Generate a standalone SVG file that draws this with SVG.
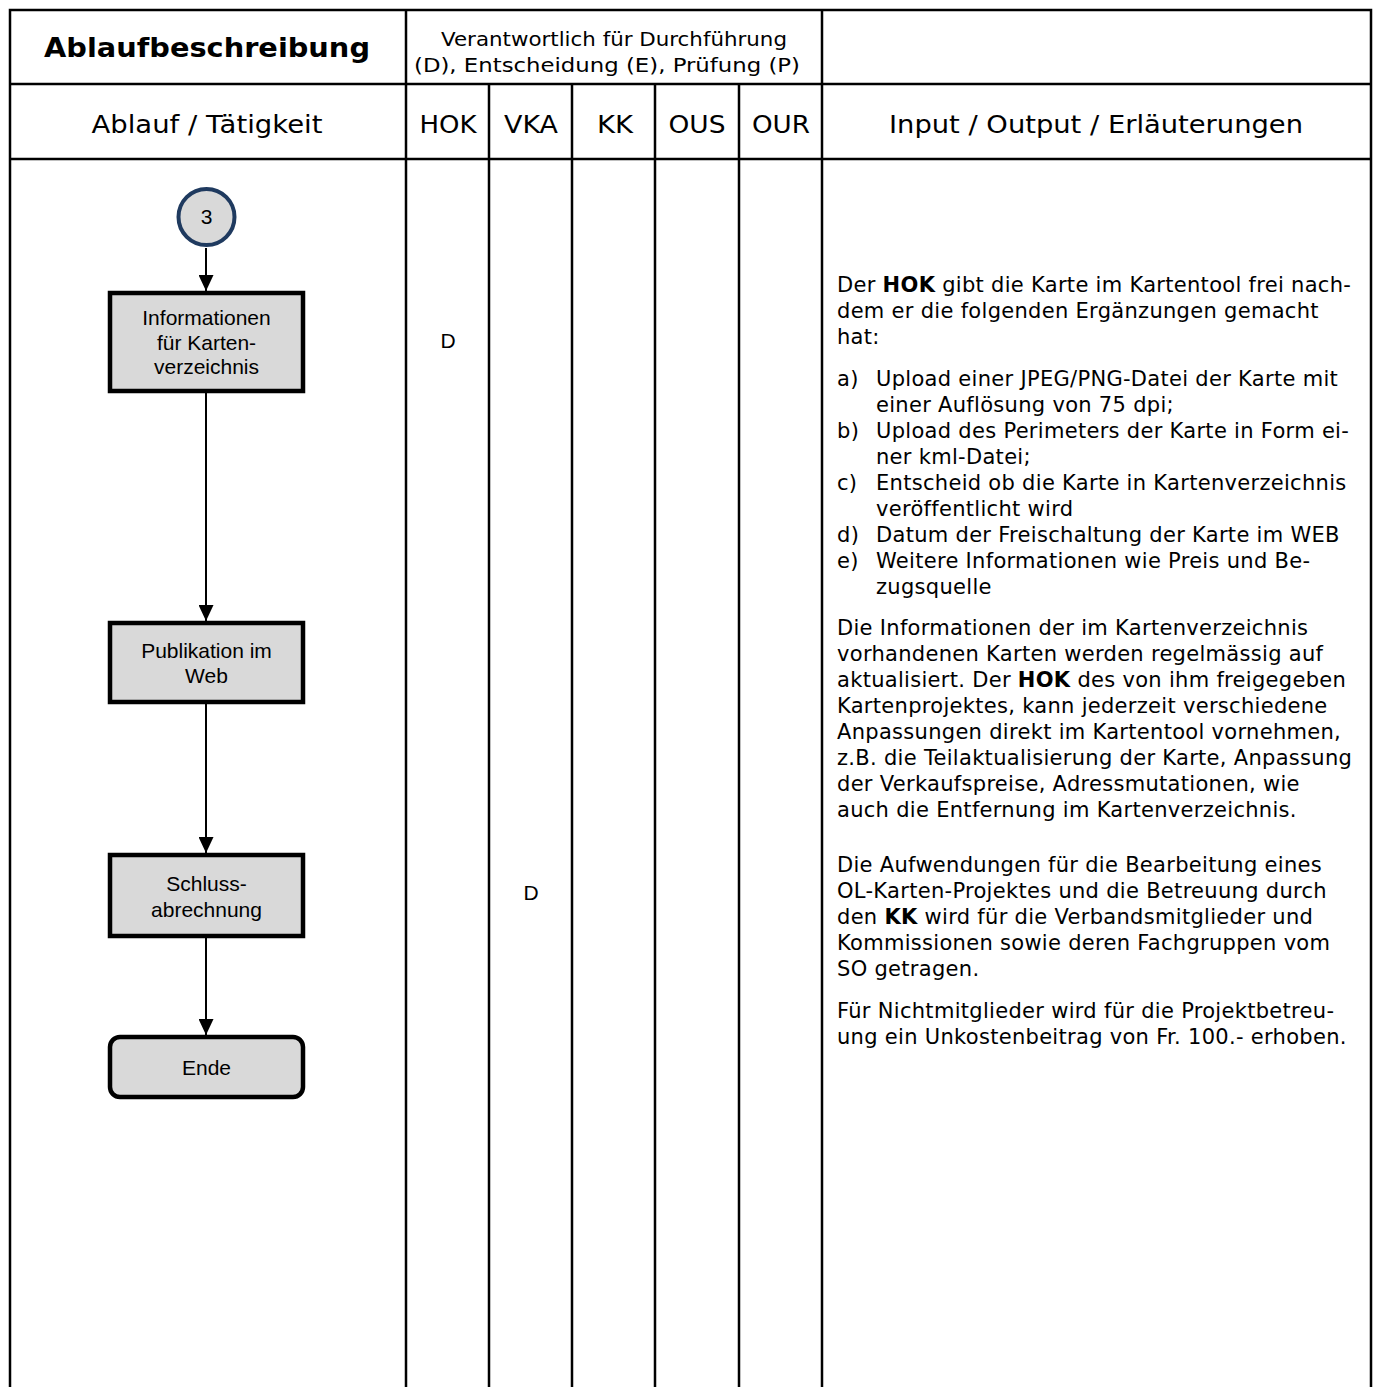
<svg xmlns="http://www.w3.org/2000/svg" width="1378" height="1387" viewBox="0 0 1378 1387">
<defs>
<style>
.grid{stroke:#000;stroke-width:2.5;fill:none}
.hdr{font-family:"DejaVu Sans","Liberation Sans",sans-serif;fill:#000}
.body{font-family:"DejaVu Sans","Liberation Sans",sans-serif;font-size:21px;letter-spacing:0.3px;fill:#000}
.node rect{fill:#d9d9d9;stroke:#000;stroke-width:4.5}
.lbl{font-family:"Liberation Sans",Arial,sans-serif;font-size:21px;fill:#000;text-anchor:middle}
.conn{stroke:#000;stroke-width:2;fill:none;marker-end:url(#arr)}
</style>
<marker id="arr" viewBox="0 0 16 15" refX="16" refY="7.5" markerWidth="16" markerHeight="15" markerUnits="userSpaceOnUse" orient="auto">
<path d="M0,0 L16,7.5 L0,15 z" fill="#000"/>
</marker>
</defs>
<rect width="1378" height="1387" fill="#fff"/>
<g id="table">
<path class="grid" d="M10,1387 V10 H1371 V1387 M10,84 H1371 M10,159 H1371 M406,10 V1387 M822,10 V1387 M489,84 V1387 M572,84 V1387 M655,84 V1387 M739,84 V1387"/>
</g>
<g id="headers" class="hdr">
<text x="207" y="57" font-size="26" font-weight="bold" text-anchor="middle" textLength="326" lengthAdjust="spacingAndGlyphs">Ablaufbeschreibung</text>
<text x="614" y="46" font-size="19" text-anchor="middle" textLength="346" lengthAdjust="spacingAndGlyphs">Verantwortlich für Durchführung</text>
<text x="607" y="72" font-size="19" text-anchor="middle" textLength="386" lengthAdjust="spacingAndGlyphs">(D), Entscheidung (E), Prüfung (P)</text>
<text x="207" y="133" font-size="25" text-anchor="middle" textLength="231" lengthAdjust="spacingAndGlyphs">Ablauf / Tätigkeit</text>
<text x="448" y="133" font-size="25" text-anchor="middle" textLength="57" lengthAdjust="spacingAndGlyphs">HOK</text>
<text x="531" y="133" font-size="25" text-anchor="middle" textLength="54" lengthAdjust="spacingAndGlyphs">VKA</text>
<text x="615" y="133" font-size="25" text-anchor="middle" textLength="36" lengthAdjust="spacingAndGlyphs">KK</text>
<text x="697" y="133" font-size="25" text-anchor="middle" textLength="57" lengthAdjust="spacingAndGlyphs">OUS</text>
<text x="781" y="133" font-size="25" text-anchor="middle" textLength="58" lengthAdjust="spacingAndGlyphs">OUR</text>
<text x="1096" y="133" font-size="25" text-anchor="middle" textLength="414" lengthAdjust="spacingAndGlyphs">Input / Output / Erläuterungen</text>
</g>
<g id="connectors">
<line class="conn" x1="206" y1="248" x2="206" y2="291"/>
<line class="conn" x1="206" y1="393" x2="206" y2="621"/>
<line class="conn" x1="206" y1="704" x2="206" y2="853"/>
<line class="conn" x1="206" y1="938" x2="206" y2="1035"/>
</g>
<g id="n_start">
<circle cx="206.5" cy="217" r="28" fill="#d9d9d9" stroke="#1f3a5f" stroke-width="4"/>
<text class="lbl" x="206.5" y="224" font-size="19">3</text>
</g>
<g id="n_info" class="node">
<rect x="110" y="293" width="193" height="98"/>
<text class="lbl" x="206.5" y="325">Informationen</text>
<text class="lbl" x="206.5" y="350">für Karten-</text>
<text class="lbl" x="206.5" y="374">verzeichnis</text>
</g>
<g id="n_pub" class="node">
<rect x="110" y="623" width="193" height="79"/>
<text class="lbl" x="206.5" y="658">Publikation im</text>
<text class="lbl" x="206.5" y="683">Web</text>
</g>
<g id="n_schluss" class="node">
<rect x="110" y="855" width="193" height="81"/>
<text class="lbl" x="206.5" y="891">Schluss-</text>
<text class="lbl" x="206.5" y="917">abrechnung</text>
</g>
<g id="n_ende" class="node">
<rect x="110" y="1037" width="193" height="60" rx="10"/>
<text class="lbl" x="206.5" y="1075">Ende</text>
</g>
<g id="roles">
<text class="lbl" x="448" y="348" font-size="19">D</text>
<text class="lbl" x="531" y="900" font-size="19">D</text>
</g>
<g id="notes" class="body">
<text x="837" y="292">Der <tspan font-weight="bold">HOK</tspan> gibt die Karte im Kartentool frei nach-</text>
<text x="837" y="318">dem er die folgenden Ergänzungen gemacht</text>
<text x="837" y="344">hat:</text>
<text x="837" y="386">a)</text><text x="876" y="386">Upload einer JPEG/PNG-Datei der Karte mit</text>
<text x="876" y="412">einer Auflösung von 75 dpi;</text>
<text x="837" y="438">b)</text><text x="876" y="438">Upload des Perimeters der Karte in Form ei-</text>
<text x="876" y="464">ner kml-Datei;</text>
<text x="837" y="490">c)</text><text x="876" y="490">Entscheid ob die Karte in Kartenverzeichnis</text>
<text x="876" y="516">veröffentlicht wird</text>
<text x="837" y="542">d)</text><text x="876" y="542">Datum der Freischaltung der Karte im WEB</text>
<text x="837" y="568">e)</text><text x="876" y="568">Weitere Informationen wie Preis und Be-</text>
<text x="876" y="594">zugsquelle</text>
<text x="837" y="635">Die Informationen der im Kartenverzeichnis</text>
<text x="837" y="661">vorhandenen Karten werden regelmässig auf</text>
<text x="837" y="687">aktualisiert. Der <tspan font-weight="bold">HOK</tspan> des von ihm freigegeben</text>
<text x="837" y="713">Kartenprojektes, kann jederzeit verschiedene</text>
<text x="837" y="739">Anpassungen direkt im Kartentool vornehmen,</text>
<text x="837" y="765">z.B. die Teilaktualisierung der Karte, Anpassung</text>
<text x="837" y="791">der Verkaufspreise, Adressmutationen, wie</text>
<text x="837" y="817">auch die Entfernung im Kartenverzeichnis.</text>
<text x="837" y="872">Die Aufwendungen für die Bearbeitung eines</text>
<text x="837" y="898">OL-Karten-Projektes und die Betreuung durch</text>
<text x="837" y="924">den <tspan font-weight="bold">KK</tspan> wird für die Verbandsmitglieder und</text>
<text x="837" y="950">Kommissionen sowie deren Fachgruppen vom</text>
<text x="837" y="976">SO getragen.</text>
<text x="837" y="1018">Für Nichtmitglieder wird für die Projektbetreu-</text>
<text x="837" y="1044">ung ein Unkostenbeitrag von Fr. 100.- erhoben.</text>
</g>
</svg>
